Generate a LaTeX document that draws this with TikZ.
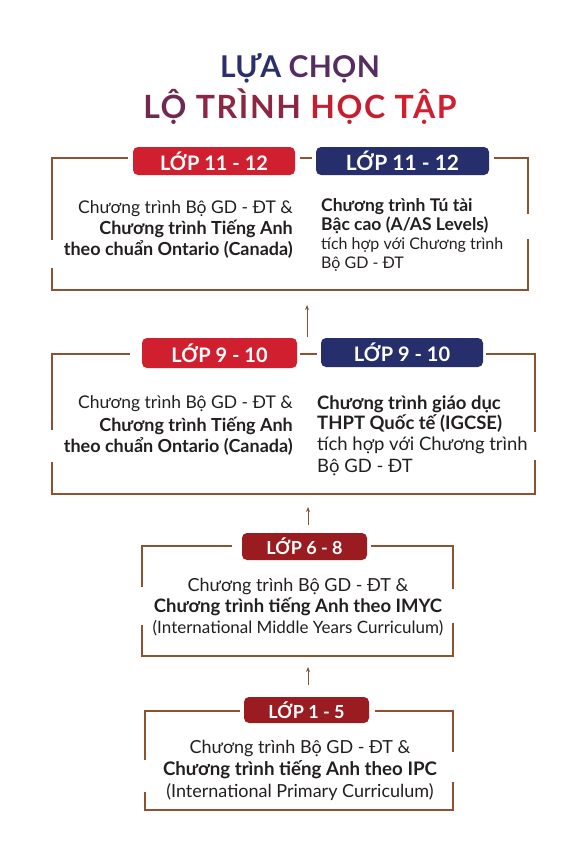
\documentclass[tikz,border=0pt]{standalone}
\usepackage{fontspec}
\setmainfont{Lato}
\usetikzlibrary{arrows.meta}
\definecolor{framebrown}{HTML}{8C5232}
\definecolor{pillred}{HTML}{D0202F}
\definecolor{pillnavy}{HTML}{262F6B}
\definecolor{pillmaroon}{HTML}{9B1C20}
\definecolor{txtgray}{HTML}{231F20}
\definecolor{titlenavy}{HTML}{2B2F6C}
\definecolor{titlepurple}{HTML}{552D60}
\definecolor{titleplum}{HTML}{6E2A50}
\definecolor{titlewine}{HTML}{8C2644}
\definecolor{titlered}{HTML}{C41F30}
\definecolor{titlescarlet}{HTML}{D21F2F}
\newcommand{\boldline}[2]{{\bfseries\fontsize{#1}{#1}\selectfont #2}}
\tikzset{
  frame/.style={framebrown, line width=1.2pt},
  pill/.style={rounded corners=5pt, minimum height=28pt, text=white, inner sep=0pt,
    font=\bfseries\fontsize{20}{20}\selectfont},
  uparrow/.style={framebrown, line width=0.9pt, -{Stealth[length=5pt,width=4pt]}},
  bodytext/.style={text=txtgray, inner sep=0pt},
  sidetext/.style={text=txtgray, inner sep=0pt, align=left, anchor=base west},
}
\begin{document}
\begin{tikzpicture}[x=1pt,y=-1pt]
  \useasboundingbox (0,0) rectangle (586,864);
  % title
  \node[anchor=base, font=\bfseries\fontsize{30}{30}\selectfont\addfontfeatures{LetterSpace=1}] (title1) at (300,78)
    {\textcolor{titlenavy}{LỰA} \textcolor{titlepurple}{CHỌN}};
  \node[anchor=base, font=\bfseries\fontsize{32}{32}\selectfont\addfontfeatures{LetterSpace=5}] (title2) at (300,118)
    {\textcolor{titleplum}{LỘ} \textcolor{titlewine}{TRÌNH} \textcolor{titlered}{HỌC} \textcolor{titlescarlet}{TẬP}};

  % lop 11 - 12
  \draw[frame] (128,158) -- (52,158) -- (52,240) (52,268) -- (52,290) -- (528,290) -- (528,239)
    (528,214) -- (528,158) -- (494,158) (300,158) -- (312,158);
  \node[pill, fill=pillred, minimum width=162pt] (lop1112a) at (214,161) {LỚP 11 - 12};
  \node[pill, fill=pillnavy, minimum width=173pt, font=\bfseries\fontsize{21}{21}\selectfont] (lop1112b) at (402.5,161) {LỚP 11 - 12};
  \node[bodytext, align=right, anchor=base east, font=\fontsize{17.5}{20.5}\selectfont] (prog1112a) at (293,255)
    {Chương trình Bộ GD - ĐT \&\\[0.5pt] \boldline{18}{Chương trình Tiếng Anh}\\ \boldline{18}{theo chuẩn Ontario (Canada)}};
  \node[sidetext, font=\fontsize{16}{18.7}\selectfont] (prog1112b) at (321,268)
    {\boldline{17.5}{Chương trình Tú tài}\\ \boldline{17.5}{Bậc cao (A/AS Levels)}\\ tích hợp với Chương trình\\ Bộ GD - ĐT};

  % lop 9 - 10
  \draw[frame] (130,354) -- (52,354) -- (52,430) (52,462) -- (52,494) -- (535,494) -- (535,460)
    (535,432) -- (535,354) -- (486,354) (300,354) -- (317,354);
  \node[pill, fill=pillred, minimum width=155pt, minimum height=30pt] (lop910a) at (219.5,353) {LỚP 9 - 10};
  \node[pill, fill=pillnavy, minimum width=162pt, minimum height=29pt] (lop910b) at (402,352.5) {LỚP 9 - 10};
  \node[bodytext, align=right, anchor=base east, font=\fontsize{17.5}{20.5}\selectfont] (prog910a) at (293,452)
    {Chương trình Bộ GD - ĐT \&\\[3pt] \boldline{18}{Chương trình Tiếng Anh}\\ \boldline{18}{theo chuẩn Ontario (Canada)}};
  \node[sidetext, font=\fontsize{18.5}{21.3}\selectfont] (prog910b) at (317,472)
    {\textbf{Chương trình giáo dục}\\[-1pt] \textbf{THPT Quốc tế (IGCSE)}\\ tích hợp với Chương trình\\ Bộ GD - ĐT};

  % lop 6 - 8
  \draw[frame] (232,546) -- (142,546) -- (142,587) (142,625) -- (142,656) -- (453,656) -- (453,623)
    (453,589) -- (453,546) -- (371,546);
  \node[pill, fill=pillmaroon, minimum width=125pt, minimum height=27pt, font=\bfseries\fontsize{18}{18}\selectfont] (lop68) at (304.5,546.5) {LỚP 6 - 8};
  \node[bodytext, align=center, anchor=base, font=\fontsize{18}{21}\selectfont] (prog68) at (298,633)
    {Chương trình Bộ GD - ĐT \&\\ \boldline{18.5}{Chương trình tiếng Anh theo IMYC}\\ {\fontsize{17}{17}\selectfont (International Middle Years Curriculum)}};

  % lop 1 - 5
  \draw[frame] (240,711) -- (145,711) -- (145,760) (145,792) -- (145,810) -- (453,810) -- (453,782)
    (453,752) -- (453,711) -- (375,711);
  \node[pill, fill=pillmaroon, minimum width=125pt, minimum height=26pt, font=\bfseries\fontsize{18}{18}\selectfont] (lop15) at (306.5,710) {LỚP 1 - 5};
  \node[bodytext, align=center, anchor=base, font=\fontsize{18}{22}\selectfont] (prog15) at (300,797)
    {Chương trình Bộ GD - ĐT \&\\ \boldline{18.7}{Chương trình tiếng Anh theo IPC}\\ (International Primary Curriculum)};

  % arrows
  \coordinate (frame1bot) at (307,305);
  \coordinate (frame2top) at (307,337);
  \coordinate (frame2bot) at (308,507);
  \coordinate (frame3top) at (308,525);
  \coordinate (frame3bot) at (308,667);
  \coordinate (frame4top) at (308,685);
  \draw[uparrow] (frame2top) -- (frame1bot);
  \draw[uparrow] (frame3top) -- (frame2bot);
  \draw[uparrow] (frame4top) -- (frame3bot);
\end{tikzpicture}
\end{document}
